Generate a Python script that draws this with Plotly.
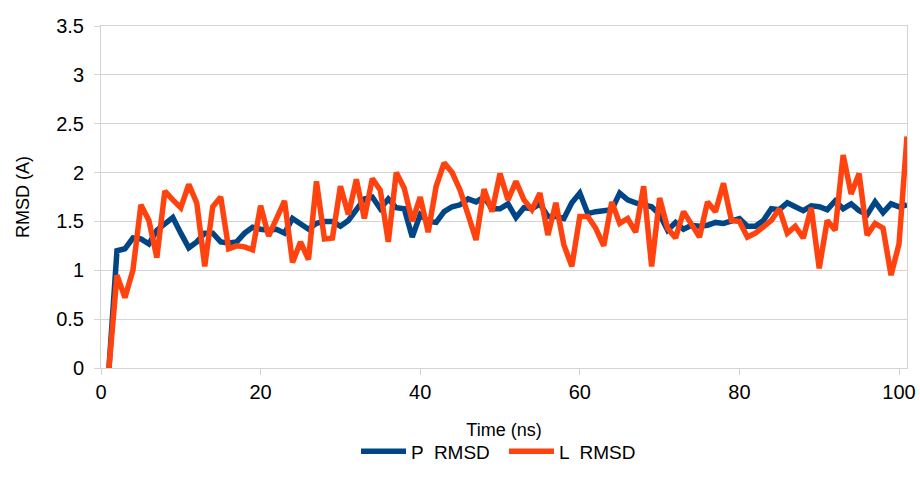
import plotly.graph_objects as go

time_ns = list(range(1, 102))

p_rmsd = [0, 1.2, 1.22, 1.33, 1.32, 1.27, 1.41, 1.48, 1.54, 1.38,
          1.23, 1.29, 1.38, 1.38, 1.29, 1.28, 1.29, 1.38, 1.44, 1.42,
          1.41, 1.42, 1.38, 1.53, 1.48, 1.42, 1.48, 1.5, 1.5, 1.45,
          1.51, 1.62, 1.73, 1.75, 1.63, 1.73, 1.64, 1.63, 1.34, 1.57,
          1.5, 1.49, 1.6, 1.65, 1.67, 1.73, 1.7, 1.75, 1.63, 1.63,
          1.68, 1.54, 1.64, 1.63, 1.68, 1.55, 1.55, 1.53, 1.69, 1.79,
          1.58, 1.6, 1.61, 1.62, 1.79, 1.72, 1.69, 1.67, 1.65, 1.57,
          1.41, 1.49, 1.42, 1.46, 1.45, 1.46, 1.49, 1.48, 1.51, 1.53,
          1.45, 1.45, 1.51, 1.63, 1.62, 1.69, 1.65, 1.61, 1.66, 1.65,
          1.62, 1.71, 1.63, 1.68, 1.61, 1.57, 1.7, 1.59, 1.68, 1.65,
          1.67]

l_rmsd = [0, 0.95, 0.72, 1.0, 1.67, 1.51, 1.13, 1.81, 1.72, 1.64,
          1.88, 1.69, 1.04, 1.65, 1.75, 1.22, 1.25, 1.24, 1.21, 1.66,
          1.35, 1.53, 1.71, 1.08, 1.29, 1.11, 1.91, 1.32, 1.33, 1.86,
          1.57, 1.93, 1.53, 1.94, 1.82, 1.29, 2.0, 1.84, 1.5, 1.75,
          1.39, 1.86, 2.1, 2.0, 1.82, 1.57, 1.31, 1.83, 1.6, 1.99,
          1.72, 1.91, 1.72, 1.62, 1.79, 1.36, 1.69, 1.26, 1.04, 1.55,
          1.55, 1.43, 1.25, 1.7, 1.48, 1.53, 1.39, 1.86, 1.04, 1.74,
          1.43, 1.33, 1.6, 1.47, 1.34, 1.7, 1.6, 1.89, 1.51, 1.5,
          1.34, 1.38, 1.44, 1.51, 1.63, 1.38, 1.45, 1.33, 1.64, 1.02,
          1.51, 1.41, 2.18, 1.78, 1.99, 1.36, 1.48, 1.43, 0.95, 1.27,
          2.37]

series_names = ["P  RMSD", "L  RMSD"]
series_colors = ["#004586", "#ff420e"]

fig = go.Figure()
for name, ys, col in zip(series_names, [p_rmsd, l_rmsd], series_colors):
    fig.add_trace(go.Scatter(x=time_ns, y=ys, mode="lines", name=name,
                             line=dict(color=col, width=5.5)))

grid = "#d4d4d4"
fig.update_layout(
    width=920, height=489,
    margin=dict(l=101, r=13, t=26, b=121),
    paper_bgcolor="white", plot_bgcolor="white",
    font=dict(family="Liberation Sans, Arial, sans-serif", size=20, color="#000"),
    showlegend=True,
    legend=dict(orientation="h", x=0.5, xanchor="center", y=-0.244, yanchor="middle",
                font=dict(size=19), itemwidth=45, entrywidth=88),
    xaxis=dict(range=[0, 101], dtick=20, tick0=0, showgrid=False,
               showline=True, linecolor=grid, linewidth=1, mirror=True,
               ticks="outside", ticklen=6, tickcolor=grid,
               zeroline=False, automargin=False,
               title=dict(text="Time (ns)", font=dict(size=18), standoff=21)),
    yaxis=dict(range=[0, 3.5], dtick=0.5, tick0=0, showgrid=True, gridcolor=grid,
               showline=True, linecolor=grid, linewidth=1, mirror=True,
               ticks="outside", ticklen=6, tickcolor=grid,
               zeroline=False, ticklabelstandoff=6, automargin=False,
               title=dict(text="RMSD (A)", font=dict(size=18), standoff=21)),
)

fig.write_html("out.html",
               config={"displayModeBar": False},
               post_script="document.body.style.margin='0';document.body.style.overflow='hidden';")
